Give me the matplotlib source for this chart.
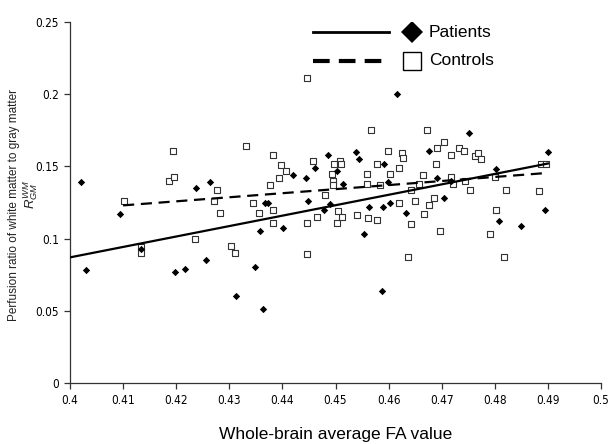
import matplotlib
matplotlib.use("Agg")
import matplotlib.pyplot as plt
from matplotlib.lines import Line2D
import matplotlib.font_manager as fm

fonts = fm.fontManager.ttflist
names = {f.name for f in fonts}
if 'Liberation Sans Narrow' in names:
    tick_font = dict(family=['Liberation Sans Narrow', 'DejaVu Sans'])
elif any(f.name == 'DejaVu Sans' and f.stretch == 'condensed' for f in fonts):
    tick_font = dict(family=['DejaVu Sans'], stretch='condensed')
else:
    tick_font = dict(family=['Liberation Sans', 'DejaVu Sans'])
plt.rcParams['font.family'] = ['Liberation Sans', 'DejaVu Sans']
plt.rcParams['mathtext.fontset'] = 'custom'
plt.rcParams['mathtext.it'] = 'Liberation Sans:italic'
plt.rcParams['mathtext.rm'] = 'Liberation Sans'

# ---------------- data ----------------
patients_fa = [0.4020, 0.4030, 0.4095, 0.4133, 0.4197, 0.4217, 0.4238, 0.4257, 0.4264,
               0.4312, 0.4348, 0.4357, 0.4364, 0.4367, 0.4372, 0.4401, 0.4420, 0.4444,
               0.4448, 0.4462, 0.4478, 0.4486, 0.4489, 0.4502, 0.4515, 0.4538, 0.4545,
               0.4554, 0.4563, 0.4587, 0.4591, 0.4590, 0.4598, 0.4603, 0.4615, 0.4633,
               0.4676, 0.4691, 0.4704, 0.4717, 0.4751, 0.4803, 0.4808, 0.4850, 0.4894,
               0.4900]
patients_ratio = [0.139, 0.078, 0.117, 0.093, 0.077, 0.079, 0.135, 0.085, 0.139,
                  0.060, 0.080, 0.105, 0.051, 0.125, 0.125, 0.107, 0.144, 0.142,
                  0.126, 0.149, 0.120, 0.158, 0.124, 0.147, 0.138, 0.160, 0.155,
                  0.103, 0.122, 0.064, 0.152, 0.122, 0.139, 0.125, 0.200, 0.118,
                  0.161, 0.142, 0.128, 0.140, 0.173, 0.148, 0.112, 0.109, 0.120,
                  0.160]

controls_fa = [0.4102, 0.4133, 0.4133, 0.4187, 0.4195, 0.4194, 0.4236, 0.4276, 0.4271,
               0.4282, 0.4304, 0.4311, 0.4332, 0.4345, 0.4355, 0.4377, 0.4383, 0.4383,
               0.4383, 0.4394, 0.4398, 0.4406, 0.4446, 0.4446, 0.4446, 0.4458, 0.4465,
               0.4481, 0.4494, 0.4495, 0.4495, 0.4498, 0.4502, 0.4505, 0.4508, 0.4510,
               0.4512, 0.4540, 0.4560, 0.4560, 0.4561, 0.4567, 0.4578, 0.4578, 0.4584,
               0.4598, 0.4603, 0.4619, 0.4619, 0.4625, 0.4628, 0.4636, 0.4642, 0.4642,
               0.4649, 0.4657, 0.4664, 0.4666, 0.4673, 0.4677, 0.4686, 0.4689, 0.4692,
               0.4696, 0.4705, 0.4717, 0.4718, 0.4721, 0.4733, 0.4742, 0.4744, 0.4753,
               0.4762, 0.4768, 0.4774, 0.4791, 0.4801, 0.4802, 0.4818, 0.4821, 0.4884,
               0.4887, 0.4896]
controls_ratio = [0.126, 0.094, 0.090, 0.140, 0.143, 0.161, 0.100, 0.134, 0.126,
                  0.118, 0.095, 0.090, 0.164, 0.125, 0.118, 0.137, 0.158, 0.120,
                  0.111, 0.142, 0.151, 0.147, 0.211, 0.111, 0.089, 0.154, 0.115,
                  0.130, 0.145, 0.140, 0.137, 0.152, 0.111, 0.119, 0.154, 0.152,
                  0.115, 0.116, 0.145, 0.138, 0.114, 0.175, 0.152, 0.113, 0.137,
                  0.161, 0.145, 0.149, 0.125, 0.159, 0.156, 0.087, 0.110, 0.134,
                  0.126, 0.138, 0.144, 0.117, 0.175, 0.123, 0.128, 0.152, 0.163,
                  0.105, 0.167, 0.158, 0.143, 0.138, 0.163, 0.161, 0.140, 0.134,
                  0.157, 0.159, 0.155, 0.103, 0.143, 0.120, 0.087, 0.134, 0.133,
                  0.152, 0.152]

patients_fit_fa = [0.400, 0.490]
patients_fit_ratio = [0.087, 0.152]
controls_fit_fa = [0.410, 0.490]
controls_fit_ratio = [0.123, 0.1455]

x_ticks = [0.40, 0.41, 0.42, 0.43, 0.44, 0.45, 0.46, 0.47, 0.48, 0.49, 0.50]
x_tick_labels = ['0.4', '0.41', '0.42', '0.43', '0.44', '0.45', '0.46', '0.47', '0.48', '0.49', '0.5']
y_ticks = [0, 0.05, 0.10, 0.15, 0.20, 0.25]
y_tick_labels = ['0', '0.05', '0.1', '0.15', '0.2', '0.25']

legend_labels = ['Patients', 'Controls']

# ---------------- figure ----------------
fig = plt.figure(figsize=(6.08, 4.44), dpi=100)
ax = fig.add_axes([70/608, 1 - 383/444, 531/608, 361/444])

ax.scatter(controls_fa, controls_ratio, marker='s', s=14, facecolor='white',
           edgecolor='#333333', linewidth=0.8, zorder=2)
ax.scatter(patients_fa, patients_ratio, marker='D', s=14, color='black', linewidth=0, zorder=3)
ax.plot(patients_fit_fa, patients_fit_ratio, color='black', lw=1.6, zorder=4)
ax.plot(controls_fit_fa, controls_fit_ratio, color='black', lw=1.6,
        dashes=(5, 3), zorder=4)

ax.set_xlim(0.4, 0.5)
ax.set_ylim(0, 0.25)
ax.set_xticks(x_ticks)
ax.set_xticklabels(x_tick_labels, fontsize=8.5, **tick_font)
ax.set_yticks(y_ticks)
ax.set_yticklabels(y_tick_labels, fontsize=8.5, **tick_font)
ax.tick_params(direction='out', length=4, width=0.9, color='#333333', pad=4)
for side in ('top', 'right'):
    ax.spines[side].set_visible(False)
for side in ('left', 'bottom'):
    ax.spines[side].set_color('#333333')
    ax.spines[side].set_linewidth(0.9)

ax.set_xlabel('Whole-brain average FA value', fontsize=12.5, labelpad=14)
fig.text(14/608, 1 - 205/444, 'Perfusion ratio of white matter to gray matter',
         rotation=90, ha='center', va='center', fontsize=8.5, color='#222222')
fig.text(31/608, 1 - 195/444, r'$R_{GM}^{WM}$', rotation=90, ha='center',
         va='center', fontsize=9.5, color='#222222')

# legend (manual layout)
rows = [(0.972, '-', 'D', 'black', 'black'), (0.892, '--', 's', 'white', 'black')]
for (yy, ls, mk, fc, ec), lab in zip(rows, legend_labels):
    ln = Line2D([0.458, 0.601], [yy, yy], transform=ax.transAxes, color='black',
                lw=2.0, linestyle='-' if ls == '-' else (0, (4, 2.2)))
    if ls != '-':
        ln.set_linewidth(3.0)
    ax.add_line(ln)
    ax.add_line(Line2D([0.645], [yy], transform=ax.transAxes, marker=mk,
                       markersize=11 if mk == 'D' else 13, markerfacecolor=fc,
                       markeredgecolor=ec if mk == 's' else 'black',
                       markeredgewidth=1.0 if mk == 's' else 0, linestyle='none'))
    ax.text(0.676, yy, lab, transform=ax.transAxes, fontsize=12.5, va='center', ha='left')

fig.savefig('out.png', dpi=100)
